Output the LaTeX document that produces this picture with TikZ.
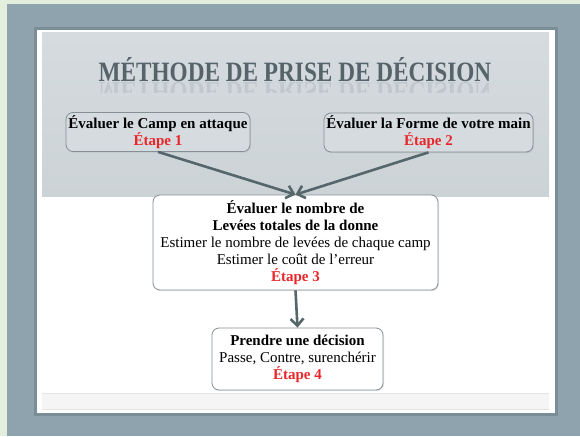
\documentclass[tikz,border=0pt]{standalone}
\usepackage{fontspec}
\setmainfont{Liberation Serif}
\usetikzlibrary{arrows.meta,shadows}

\definecolor{fond}{HTML}{8EA3AD}
\definecolor{bordvert}{HTML}{E3EFDC}
\definecolor{ombre}{HTML}{6E8089}
\definecolor{gristitre}{HTML}{D5DBDE}
\definecolor{gristitrebas}{HTML}{CCD3D7}
\definecolor{texttitre}{HTML}{56636A}
\definecolor{bordboite}{HTML}{858F94}
\definecolor{fleche}{HTML}{56676B}
\definecolor{rouge}{HTML}{E8262A}
\definecolor{ligne}{HTML}{E1E4E0}

\newcommand{\etape}[1]{\textcolor{rouge}{\textbf{Étape #1}}}

\begin{document}
\begin{tikzpicture}[x=1pt, y=-1pt,
    stepbox/.style={draw=bordboite, line width=0.8pt, rounded corners=7pt,
      align=center, inner sep=0pt,
      font=\fontsize{15}{17}\selectfont,
      drop shadow={opacity=0.18, shadow xshift=1pt, shadow yshift=-1.2pt}},
    titre/.style={font=\fontsize{28}{30}\selectfont\bfseries, text=texttitre, inner sep=0pt},
    fl/.style={draw=fleche, line width=2.6pt, -{Straight Barb[length=7pt, width=13pt]}}]
  \useasboundingbox (0,0) rectangle (580,436);
  % fond de la page
  \fill [fond] (0,0) rectangle (580,436);
  \fill [bordvert] (0,0) rectangle (7,436);
  \fill [bordvert] (0,0) rectangle (580,4);
  % diapositive
  \fill [ombre, opacity=0.6] (34,27) rectangle (558,416);
  \fill [white] (37,30) rectangle (555,413);
  \shade [top color=gristitre, bottom color=gristitrebas] (42,33) rectangle (549,196);
  \fill [black!4] (42,393) rectangle (549,409);
  \draw [ligne, line width=1pt] (42,393) -- (549,393);
  \draw [ligne, line width=0.8pt] (42,409) -- (549,409);

  \node [titre, anchor=base] (t) at (295,81) {\scalebox{0.83}[1]{MÉTHODE DE PRISE DE DÉCISION}};
  \begin{scope}
    \clip (80,82) rectangle (510,92);
    \begin{scope}[shift={(295,82)}, yscale=-1]
      \node [titre, anchor=base, transform shape, opacity=0.13] (tr) at (0,0) {\scalebox{0.83}[1]{MÉTHODE DE PRISE DE DÉCISION}};
    \end{scope}
  \end{scope}

  \node [stepbox, fill=gristitre, minimum width=184, minimum height=39] (b1) at (158,132)
    {\textbf{Évaluer le Camp en attaque}\\ \etape{1}};
  \node [stepbox, fill=gristitre, minimum width=209, minimum height=39] (b2) at (428.5,132.5)
    {\textbf{Évaluer la Forme de votre main}\\ \etape{2}};
  \node [stepbox, fill=white, minimum width=285, minimum height=95] (b3) at (295.5,242.5)
    {\textbf{Évaluer le nombre de}\\ \textbf{Levées totales de la donne}\\
     Estimer le nombre de levées de chaque camp\\ Estimer le coût de l’erreur\\ \etape{3}};
  \node [stepbox, fill=white, minimum width=171, minimum height=62] (b4) at (297.5,359)
    {\textbf{Prendre une décision}\\ Passe, Contre, surenchérir\\ \etape{4}};

  \draw [fl] (b1.south) -- (b3.north);
  \draw [fl] (b2.south) -- (b3.north);
  \draw [fl] (b3.south) -- (b4.north);
\end{tikzpicture}
\end{document}
